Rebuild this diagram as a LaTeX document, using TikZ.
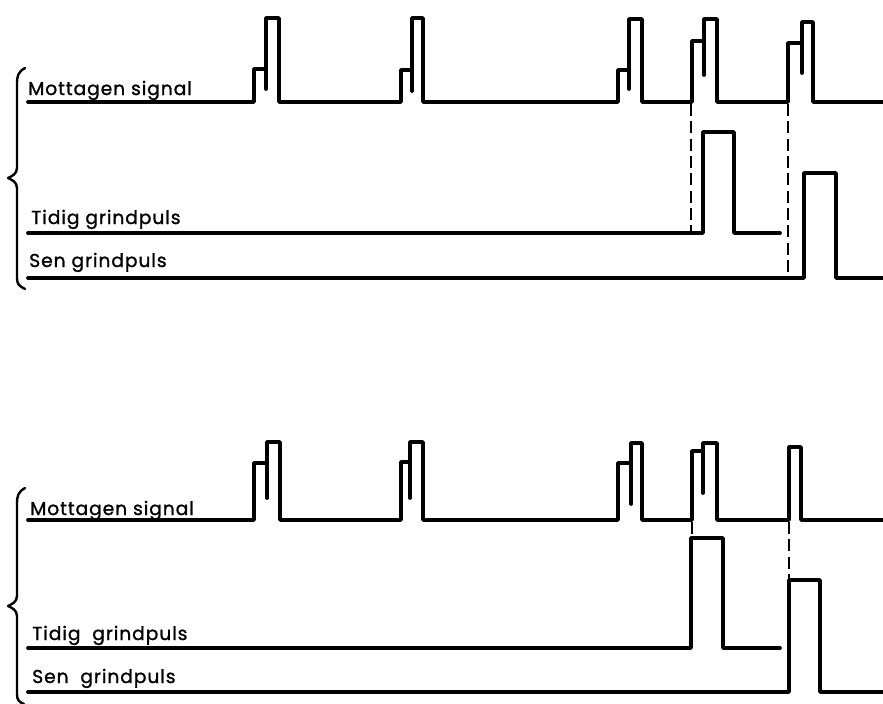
\documentclass[tikz,border=0pt]{standalone}
\usepackage{fontspec}
\setmainfont{Poppins}[LetterSpace=5,FakeBold=1.2]
\begin{document}
\begin{tikzpicture}[x=0.75pt,y=-0.75pt,
  sig/.style={line width=2.8pt,line join=round,line cap=round},
  guide/.style={line width=1.6pt,dash pattern=on 9pt off 4pt},
  bracepath/.style={line width=1.8pt,line join=round,line cap=round},
  lbl/.style={anchor=base west,inner sep=0pt,font=\fontsize{14}{16}\selectfont}]
\useasboundingbox (0,0) rectangle (883,704);
% ---------- top panel ----------
\node[lbl] (m1) at (28,95) {Mottagen signal};
\node[lbl] (t1) at (31,224) {Tidig grindpuls};
\node[lbl] (s1) at (29,267) {Sen grindpuls};
\draw[bracepath] (25,68) .. controls (18,72) and (17,76) .. (17,84) -- (17,168)
  .. controls (17,174) and (12,176) .. (8,178)
  .. controls (12,180) and (17,182) .. (17,188) -- (17,278)
  .. controls (17,284) and (19,286) .. (25,289);
\draw[sig] (28,102) -- (254,102) |- (266,69) (266,89) |- (279,18) -- (279,102)
  -- (401,102) |- (412,70) (412,91) |- (423,18) -- (423,102)
  -- (618,102) |- (629,70) (629,89) |- (642,19) -- (642,102)
  -- (692,102) |- (704,41) (704,75) |- (717,19) -- (717,102)
  -- (788,102) |- (802,43) (802,73) |- (813,22) -- (813,102) -- (883,102);
\draw[sig] (28,233) -- (703,233) |- (734,132) -- (734,233) -- (780,233);
\draw[sig] (28,278) -- (804,278) |- (836,173) -- (836,278) -- (883,278);
\draw[guide] (691,104) -- (691,233);
\draw[guide] (788,104) -- (788,278);
% ---------- bottom panel ----------
\node[lbl] (m2) at (30,515) {Mottagen signal};
\node[lbl] (t2) at (32,640) {Tidig\ \ grindpuls};
\node[lbl] (s2) at (32,683) {Sen\ \ grindpuls};
\draw[bracepath] (25,488) .. controls (18,492) and (17,496) .. (17,504) -- (17,596)
  .. controls (17,602) and (12,604) .. (8,606)
  .. controls (12,608) and (17,610) .. (17,616) -- (17,694)
  .. controls (17,700) and (19,702) .. (24,704);
\draw[sig] (28,520) -- (254,520) |- (267,463) (267,498) |- (280,442) -- (280,520)
  -- (401,520) |- (410,462) (410,498) |- (423,442) -- (423,520)
  -- (618,520) |- (631,463) (631,504) |- (642,443) -- (642,520)
  -- (692,520) |- (703,451) (703,493) |- (717,443) -- (717,520)
  -- (789,520) |- (801,447) -- (801,520) -- (883,520);
\draw[sig] (28,648) -- (691,648) |- (723,538) -- (723,648) -- (780,648);
\draw[sig] (28,692) -- (789,692) |- (820,580) -- (820,692) -- (883,692);
\draw[guide] (692,522) -- (692,538);
\draw[guide] (789,522) -- (789,580);
\end{tikzpicture}
\end{document}
